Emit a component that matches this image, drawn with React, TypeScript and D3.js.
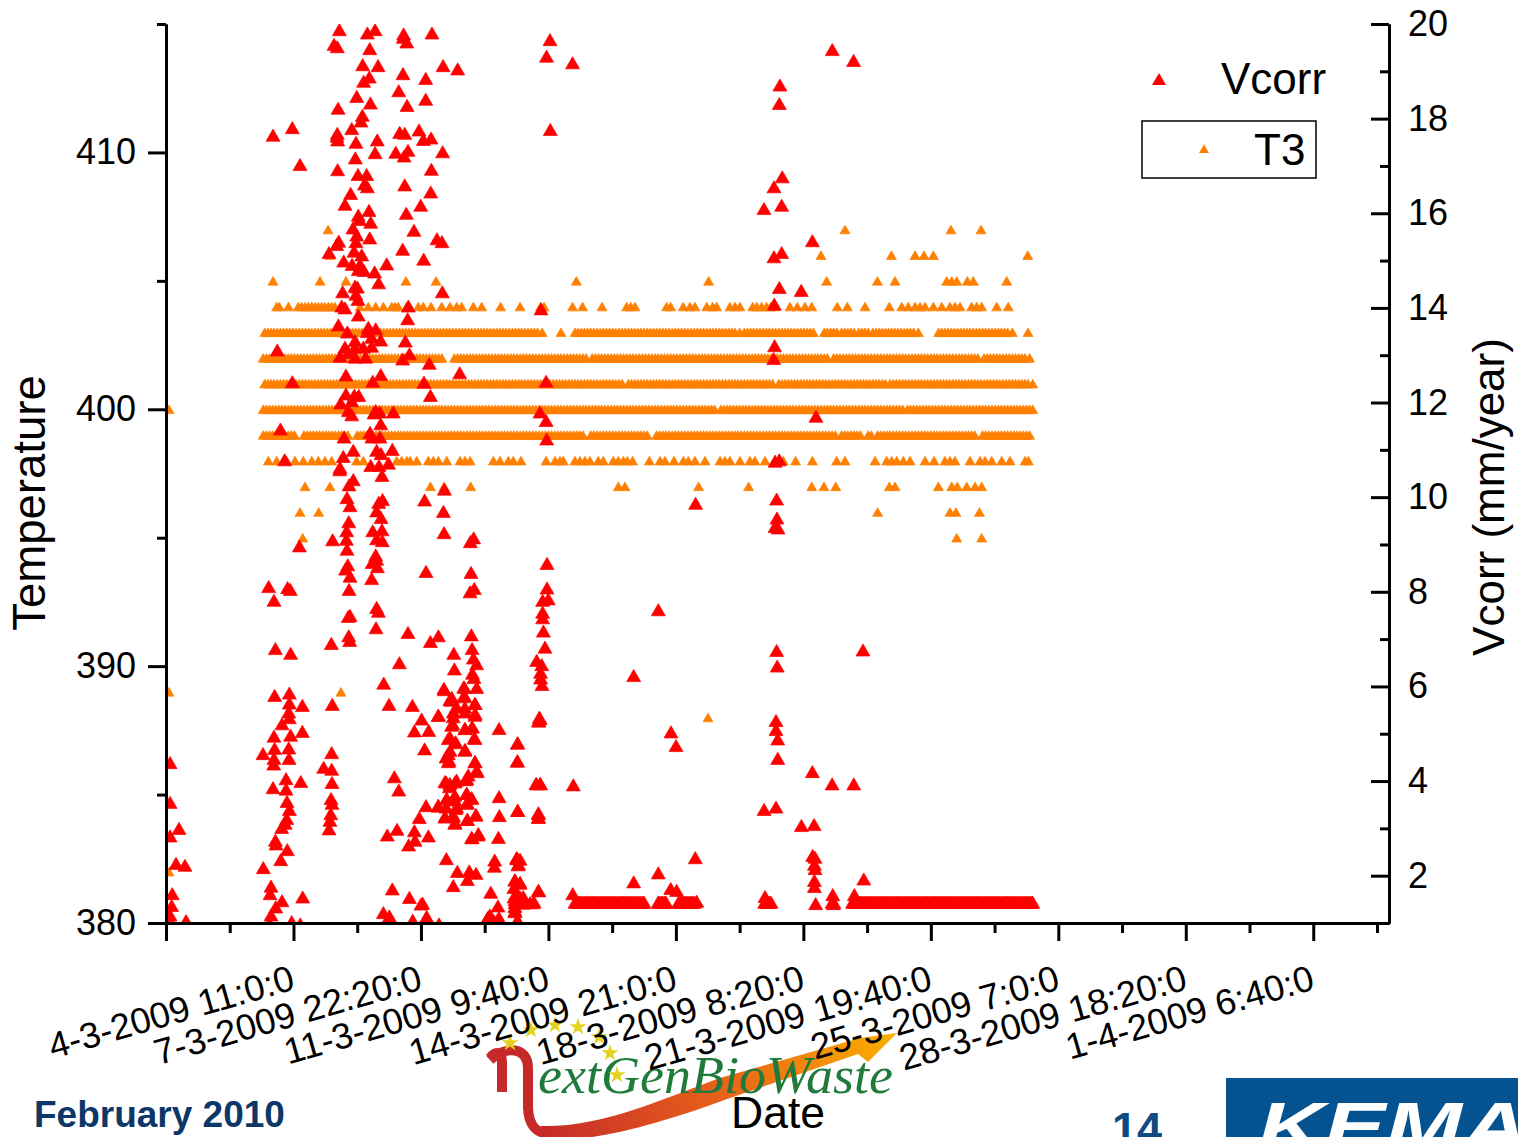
import React, { useRef, useEffect } from "react";
import * as d3 from "d3";

const tickStep = 81.33;
const xMax = 780.3;

const tickLabels = [
  "4-3-2009 11:0:0", "7-3-2009 22:20:0", "11-3-2009 9:40:0", "14-3-2009 21:0:0", "18-3-2009 8:20:0",
  "21-3-2009 19:40:0", "25-3-2009 7:0:0", "28-3-2009 18:20:0", "1-4-2009 6:40:0", "",
];

const tempMajor = [380, 390, 400, 410];
const tempMinor = [385, 395, 405, 415];
const vcorrMajor = [2, 4, 6, 8, 10, 12, 14, 16, 18, 20];
const vcorrMinor = [3, 5, 7, 9, 11, 13, 15, 17, 19];

const vcorrUpper: [number, number][] = [
  [110.6,19.88],[128.5,19.81],[133.4,19.88],[151.6,19.79],[169.7,19.81],[151.4,19.72],[153.6,19.62],[107.2,19.57],[109.3,19.52],[130,19.48],
  [125.5,19.14],[135.3,19.12],[176.8,19.12],[186.1,19.05],[151.2,18.95],[129.7,18.88],[126.1,18.79],[165.7,18.85],[148.5,18.59],[121.7,18.47],
  [165.7,18.41],[130.4,18.33],[153.8,18.28],[109.8,18.22],[125.3,18.07],[124.4,17.95],[118.5,17.79],[80.6,17.81],[68.3,17.65],[109.3,17.69],
  [109.1,17.63],[109.5,17.55],[149.1,17.71],[152.3,17.69],[161.4,17.76],[164.2,17.56],[169.1,17.59],[121.2,17.5],[134.8,17.55],[176.5,17.3],
  [133.4,17.28],[146.6,17.29],[154.4,17.33],[151.9,17.21],[120.8,17.17],[85.5,17.03],[109.5,16.92],[169.3,16.93],[122.5,16.82],[128,16.82],
  [126.6,16.62],[128.5,16.56],[152.3,16.6],[117.8,16.42],[168.9,16.45],[114.2,16.19],[162.5,16.17],[122.7,15.96],[129.5,16.06],[123.4,15.87],
  [130.6,15.81],[153.3,16],[119.3,15.69],[158.2,15.64],[121.7,15.54],[130,15.48],[110.2,15.41],[108.9,15.34],[121.2,15.4],[172.9,15.46],
  [176.1,15.4],[151,15.24],[104,15.17],[120,15.2],[124.9,15.12],[113.4,14.99],[164.4,15.03],[118.7,14.92],[123.8,14.92],[122.7,14.81],
  [126.3,14.79],[140.8,14.93],[133.1,14.76],[135.7,14.53],[120.6,14.46],[122.1,14.44],[112.7,14.34],[176.3,14.34],[121.2,14.29],[122.5,14.18],
  [112.1,14.04],[154.6,14.04],
  [239.3,13.98],[114.2,14],[154.2,13.77],[122.7,13.85],[110,13.64],[129.1,13.59],[133.8,13.56],[115.7,13.49],[128.5,13.5],[131.2,13.38],
  [120.6,13.31],[137,13.32],[152.7,13.3],[71,13.11],[114.2,13.17],[131.2,13.19],[120.6,13.17],[125.9,13.17],[155.3,13.03],[111,12.98],
  [116.3,13.06],[120.6,12.96],[127.4,12.96],[151,12.92],[168,12.83],[187.4,12.63],[114.8,12.58],[137,12.59],[131.9,12.45],[80.6,12.44],
  [164.6,12.43],[242.5,12.45],[168.7,12.15],[114.8,12.18],[120.2,12.16],[123,12.15],[118.5,12.04],[111.4,11.99],[133.8,11.83],[116.3,11.83],
  [136.5,11.8],[132.7,11.78],[145,11.8],[118.5,11.74],[238.6,11.8],[242.5,11.62],[137,11.55],[73,11.44],[130.2,11.37],[113.6,11.27],
  [131.4,11.27],[136.5,11.27],[242.9,11.23],[119.5,10.99],[134.4,10.99],[144.4,11.01],[137.2,10.92],[113.1,10.86],[75.7,10.79],[142,10.72],
  [130.6,10.67],[135.9,10.67],[111,10.63],
];

const vcorrMiddle: [number, number][] = [
  [110.8,10.58],[137.8,10.46],[119.5,10.37],[116.8,10.26],[177.6,10.17],[165,9.94],[115.5,9.99],[117.4,9.82],[138.2,9.95],[135.7,9.89],
  [134.4,9.71],[137.2,9.57],[177,9.7],[116.6,9.48],[115.3,9.29],[131.9,9.29],[137.8,9.31],[177.4,9.25],[115.1,9.11],[134.4,9.12],
  [138,9.08],[106.3,9.1],[196.3,9.14],[194.2,9.06],[85.1,8.97],[115.5,8.9],[133.8,8.78],[134.4,8.69],[131.5,8.62],[134.9,8.53],
  [116,8.57],[114.6,8.48],[117.4,8.33],[165.9,8.43],[194.6,8.41],[131.2,8.28],[65.5,8.11],[77.6,8.09],[79.3,8.05],[116.8,8.05],
  [196.7,8.07],[194,8],[68.9,7.82],[134.4,7.67],[135.5,7.59],[117.4,7.5],[116.3,7.48],[134,7.24],[154.4,7.14],[116.6,7.07],
  [117.2,6.97],[105.5,6.91],[173.8,7.07],[168.7,6.95],[194.8,7.09],[69.8,6.8],[79.5,6.7],[195.3,6.8],[183.6,6.7],[148.9,6.5],
  [196.1,6.6],[198.2,6.48],[184,6.37],[195.5,6.28],[196.5,6.19],[138.9,6.07],[198.2,5.98],[177.6,5.93],[190.4,5.98],[190.2,5.81],
  [182.3,5.77],[177.3,5.96],[190,5.99],
];

const vcorrLower: [number, number][] = [
  [69.3,5.81],[78.7,5.86],[106.1,5.62],[78.7,5.65],[87,5.6],[142.3,5.62],[157.2,5.6],[78.3,5.46],[78.7,5.34],[74,5.21],
  [163.1,5.31],[173.8,5.39],[181.9,5.71],[183.3,5.46],[197.2,5.64],[190.8,5.78],[197.2,5.43],[190.8,5.46],[183,5.21],[195.3,5.14],
  [190.8,5.11],[212.5,5.11],[238.7,5.32],[237.6,5.27],[87,5.05],[68.9,4.95],[79.5,4.97],[158.5,5.06],[167.6,5.07],[181.2,4.93],
  [196.7,4.92],[224.4,4.81],[78.3,4.7],[69.3,4.69],[61.9,4.58],[165,4.68],[184.6,4.81],[190.8,4.67],[105.7,4.6],[181.2,4.65],
  [178.7,4.51],[68.9,4.48],[78.5,4.48],[180.6,4.44],[197.2,4.41],[224.2,4.43],[2.6,4.39],[68.7,4.36],[105.7,4.25],[100.6,4.29],
  [198.2,4.23],[191.9,4.05],[76.6,4.05],[145.7,4.09],[86,3.99],[105.9,3.97],[178.7,3.98],[184.4,3.98],[180.8,3.88],[236.1,3.95],
  [238.7,3.95],[68.3,3.86],[76.6,3.83],[148.5,3.81],[191.9,3.74],[195,3.65],[179.1,3.63],[212.5,3.67],[2.6,3.55],[77.2,3.57],
  [105.3,3.63],[105.9,3.53],[184.4,3.6],[191.9,3.54],[165.9,3.48],[173.8,3.47],[178.7,3.45],[185,3.42],[78.7,3.4],[224.4,3.38],
  [105.1,3.31],[197.8,3.29],[212.7,3.27],[237.6,3.33],[237.6,3.24],[161.6,3.23],[178,3.24],[183.3,3.28],[192.3,3.19],[77,3.21],
  [104.6,3.17],[76,3.11],[184.4,3.12],[73.8,3.02],[104,2.99],[8.3,3],[147.4,2.98],[158.5,2.95],[199.3,2.89],[2.6,2.84],
  [141.2,2.86],[167.4,2.84],[195.3,2.8],[212.1,2.81],[69.8,2.75],[158.9,2.75],[70.2,2.67],[154.8,2.65],[77.4,2.55],[73.2,2.34],
  [178.9,2.36],[209.7,2.33],[223.8,2.38],[225.9,2.35],[6.4,2.26],[12.1,2.22],[209.5,2.2],[224.8,2.25],[62.1,2.17],[185.9,2.09],
  [193.5,2.1],[197.8,2.05],[192.3,1.92],[67,1.78],[183.3,1.79],[144.4,1.72],[4,1.62],[66.4,1.62],[222.7,1.91],[225.9,1.86],
  [222,1.75],[237.8,1.68],[207.2,1.65],[155.3,1.54],[87.2,1.55],[74,1.47],[3.6,1.37],[162.7,1.4],[222,1.55],[225.9,1.55],
  [222.7,1.43],[228,1.45],[234.8,1.45],[232.3,1.43],[211.8,1.36],[70,1.34],[138.7,1.22],[142.5,1.15],[2.6,1.17],[67,1.17],
  [166.3,1.13],[206.7,1.17],[222.7,1.27],[212.7,1.1],[2.6,1.06],[12.8,1.05],[80.2,1.03],[66,1],[157.4,1.06],[205,1.1],
  [224.2,1.06],[208.9,1.06],[85.7,0.98],[174.2,0.98],
  [181.1,5.72],[185.4,5.57],[197.1,5.64],[173.7,5.39],[183.3,5.36],[197.1,5.39],[190.7,5.56],[182.2,5.18],[190.7,5.11],[195.4,5.15],
  [180.1,4.9],[197.1,4.9],[184.8,4.83],[190.7,4.65],[180.1,4.58],[180.1,4.41],[197.1,4.41],[198.6,4.2],[192.8,4.13],[178,3.99],
  [185.4,4.02],[191.4,4.03],[181.1,3.95],[191.8,3.74],[195,3.63],[184.3,3.7],[179,3.63],[173.7,3.49],[185.4,3.46],[192.4,3.53],
  [178,3.25],[184.3,3.11],[183.3,3.25],[192.2,3.19],[197.7,3.28],[199.2,2.86],[195,2.81],[223.7,2.37],[224.7,2.23],[222.6,1.91],
  [225.8,1.84],[223.7,1.63],[227.9,1.56],[222.6,1.49],[234.3,1.43],[222.6,1.35],[227.9,1.42],[222.6,1.24],[205.6,1.13],[212,1.1],
  [224.3,1.06],[166.3,1.13],[163.7,1.42],
];

const vcorrRight: [number, number][] = [
  [243.1,8.6],[243.1,8.08],[243.9,7.85],[240.3,7.82],[240.3,7.57],[240.3,7.45],[240.8,7.17],[241.8,6.83],[236.5,6.55],[239.7,6.46],
  [239,6.3],[239,6.18],[239.9,6.04],[238.2,5.35],[238,5.27],[314.1,7.62],[298.4,6.23],[389.6,6.76],[390,6.43],[444.7,6.77],
  [322.2,5.04],[325.4,4.75],[389.2,5.28],[389.2,5.09],[390.3,4.89],[390.3,4.48],[412.4,4.2],[425,3.94],[438.8,3.94],[236.5,3.94],
  [239,3.94],[259.9,3.92],[224.2,4.8],[224.2,4.42],[224.4,3.38],[237.6,3.31],[237.6,3.23],[381.6,3.4],[389.2,3.45],[405.4,3.06],
  [413.5,3.08],[337.7,2.38],[412.6,2.43],[414.1,2.39],[413.7,2.24],[414.1,2.15],[224.2,2.36],[314.1,2.06],[298.4,1.87],[413.7,1.9],
  [413.7,1.77],[445.2,1.93],[237.6,1.69],[322,1.73],[325.8,1.69],[259.5,1.62],[338.6,1.46],[425.4,1.6],[382.2,1.56],[439.2,1.6],
  [414.5,1.41],[425.8,1.41],[383.3,1.44],
  [245,19.67],[242.8,19.32],[259.4,19.18],[245.2,17.77],[425.1,19.46],[438.7,19.23],[391.7,18.71],[391.3,18.32],[393.2,16.77],[387.9,16.56],
  [381.5,16.1],[392.8,16.17],[412.4,15.42],[392.8,15.17],[387.9,15.08],[391.3,14.43],[405.3,14.37],[388.1,14.08],
  [388.3,13.2],[387.7,12.93],[414.7,11.71],[388.6,10.76],[391.3,10.79],[389.6,9.96],[389.8,9.56],[388.6,9.38],[390.5,9.35],[337.9,9.87],
];

// Vcorr readings that sit on the flat run near 1.44 mm/year
const vcorrFloorValue = 1.44;
const vcorrFloor = [
  261,262,263,264,265,266,267,268,269,270,271,272,273,274,275,276,277,278,279,280,281,282,283,284,285,286,287,288,289,290,
  291,292,293,294,295,296,297,298,299,300,301,302,303,304,305,314,315,316,317,318,319,327,328,329,330,331,332,333,334,335,336,337,
  382,383,384,385,386,425,426,
  438,439,440,441,442,443,444,445,446,447,448,449,450,451,452,453,454,455,456,457,458,459,460,461,462,463,464,465,466,467,468,469,470,
  471,472,473,474,475,476,477,478,479,480,481,482,483,484,485,486,487,488,489,490,491,492,493,494,495,496,497,498,499,500,501,502,503,
  504,505,506,507,508,509,510,511,512,513,514,515,516,517,518,519,520,521,522,523,524,525,526,527,528,529,530,531,532,533,534,535,536,
  537,538,539,540,541,542,543,544,545,546,547,548,549,550,551,552,553,
];

const t3Row407 = [103.4,433.2,500.8,520];
const t3Row406 = [104.6,417.9,462.8,477.9,483.6,489.6,549.8];
const t3Row405 = [68.3,98.3,114.8,153.1,172.3,261.8,346.2,421.5,453.9,465.1,498.1,501.3,504.5,511.3,515.1,536.4];
const t3Row404 = [
  70.6,72.3,78.1,84.4,86.6,88.7,90.8,93,95.1,97.2,99.3,101.4,103.6,105.7,107.8,123.8,129.1,133.8,138.7,144,146.1,148.2,153.6,161,164.2,
  169.1,175.9,181.2,185.5,188.6,196.1,201.4,213.5,225.9,239,241.2,259.4,265.8,278.2,293.9,296.5,299.2,319.4,322,330,334.3,337.5,345,348.8,351.3,
  359.8,363,366.2,374.3,376.9,380,383.2,385.8,388.6,398.1,402.8,407.7,412,428.3,434.7,446,461.5,469.4,473.6,477.9,481.1,484.3,489.6,494.9,500.2,
  503.4,506.6,514,517.2,520.4,530,537.4,
];
const t3Row403 = [
  63,65,67,69,71,73,75,77,79,81,83,85,87,89,91,93,95,97,99,101,103,105,107,109,111,113,115,117,119,121,123,125,127,129,131,133,135,137,139,141,
  143,145,147,149,151,153,155,157,159,161,163,165,167,169,171,173,175,177,179,181,183,185,187,189,191,193,195,197,199,201,203,205,207,209,211,
  213,215,217,219,221,223,225,227,229,231,233,235,237,240,252,261,263,265,267,269,271,273,275,277,279,281,283,285,287,289,291,293,295,297,299,
  301,303,305,307,309,311,313,315,317,319,321,323,325,327,329,331,333,335,337,339,341,343,345,347,349,351,353,355,357,359,361,363,366,369,371,
  373,375,377,379,381,383,385,387,389,391,393,395,397,399,401,403,405,407,409,411,413,420,422,424,426,428,431,433,435,437,439,442,444,446,448,
  451,453,455,457,459,461,463,465,467,469,471,473,475,477,480,493,495,497,499,501,503,505,507,509,511,513,515,517,519,521,523,525,527,529,531,
  533,535,537,540,550,
];
const t3Row402 = [
  62,64,66,68,70,72,74,76,78,80,82,84,86,88,90,92,94,96,98,100,102,104,106,108,110,112,114,116,118,120,122,124,126,128,130,132,134,136,138,140,
  142,144,146,148,150,152,154,156,158,160,162,164,166,168,170,172,174,176,184,186,188,190,192,194,196,198,200,202,204,206,208,210,212,214,216,
  218,220,222,224,226,228,230,232,234,236,238,240,242,244,246,248,250,252,254,256,258,260,262,264,266,268,272,274,276,278,280,282,284,286,288,
  290,292,294,296,298,300,302,304,306,308,310,312,314,316,318,320,322,324,326,328,330,332,334,336,338,340,342,344,346,348,350,352,354,356,358,
  360,362,364,366,368,370,372,374,376,378,380,382,384,386,388,390,392,394,396,398,400,402,404,406,408,410,412,414,416,418,420,422,426,428,430,
  432,434,436,438,440,442,444,446,448,450,452,454,456,458,460,462,464,466,468,470,472,474,476,478,480,482,484,486,488,490,492,494,496,498,500,
  502,504,506,508,510,512,514,516,518,522,524,526,528,530,532,534,536,538,540,542,544,546,548,551,
];
const t3Row401 = [
  63,65,67,69,71,73,75,77,79,81,83,85,87,89,91,93,95,97,99,101,103,105,107,109,111,113,115,117,119,121,123,125,127,129,131,133,135,137,139,141,
  143,145,147,149,151,153,155,157,159,161,163,165,167,169,171,173,175,177,179,181,183,185,187,189,191,193,195,197,199,201,203,205,207,209,211,
  213,215,217,219,221,223,225,227,229,231,233,235,237,239,241,243,245,247,249,251,253,255,257,259,261,263,265,267,269,271,273,275,277,279,281,
  283,285,287,289,291,295,297,299,301,303,305,307,309,311,313,315,317,319,321,323,325,327,329,331,333,335,337,339,341,343,345,347,349,351,353,
  355,357,359,361,363,365,367,369,371,373,375,377,379,381,383,385,387,391,393,395,397,399,401,403,405,407,409,411,413,415,417,419,421,423,425,
  427,429,431,433,435,437,439,441,443,445,447,449,451,453,455,457,459,462,464,466,468,470,472,474,476,478,480,482,484,486,488,490,492,494,496,
  498,500,502,504,506,508,510,512,514,516,518,520,522,524,526,528,530,532,534,536,538,540,542,544,546,548,550,553,
];
const t3Row400 = [
  62,64,66,68,70,72,74,76,78,80,82,84,86,88,90,92,94,96,98,100,102,104,106,108,110,112,114,116,118,120,122,124,126,128,130,132,134,136,138,140,
  142,144,146,148,150,152,154,156,158,160,162,164,166,168,170,172,174,176,178,180,182,184,186,188,190,192,194,196,198,200,202,204,206,208,210,
  212,214,216,218,220,222,224,226,228,230,232,234,236,238,240,242,244,246,248,250,252,254,256,258,260,262,264,266,268,270,272,274,276,278,280,
  282,284,286,288,290,292,294,296,298,300,302,304,306,308,310,312,314,316,318,320,322,324,326,328,330,332,334,336,338,340,342,344,346,348,350,
  354,356,358,360,362,364,366,368,370,372,374,376,378,380,382,384,386,388,390,392,394,396,398,400,402,404,406,408,410,412,414,416,418,420,422,
  424,426,428,430,432,434,436,438,440,442,444,446,448,450,452,454,456,458,460,462,464,466,468,470,473,475,477,479,481,483,485,487,489,491,493,
  495,497,499,501,503,505,507,509,511,513,515,517,519,521,523,525,527,529,531,533,535,537,539,541,543,545,547,549,551,553,
];
const t3Row399 = [
  62,64,66,68,70,72,74,76,78,80,82,88,90,92,94,96,98,100,102,104,106,108,110,112,114,116,122,124,126,128,130,132,134,136,138,140,
  142,144,146,148,150,152,154,156,158,160,162,164,166,168,170,172,174,176,178,180,182,184,186,188,190,192,194,196,198,200,202,204,206,208,210,
  212,214,216,218,220,222,224,226,228,230,232,234,236,238,240,242,244,246,248,250,252,254,256,258,260,262,264,266,271,273,275,277,279,281,283,
  285,287,289,291,293,295,297,299,301,303,305,307,313,315,317,319,321,323,325,327,329,331,333,335,337,339,341,343,345,347,349,351,353,355,357,
  359,361,363,365,367,369,371,373,375,377,379,381,383,385,387,389,391,393,395,397,399,401,403,405,407,409,411,413,415,417,419,421,423,425,427,
  431,433,435,437,439,441,443,448,450,454,456,458,460,462,464,466,468,470,472,474,476,478,480,482,484,486,488,490,492,494,496,498,500,502,504,
  506,508,510,512,514,516,521,523,525,527,529,531,533,535,537,539,541,543,545,547,549,551,
];
const t3Row398 = [
  65.3,70.6,77,82.3,87.6,93,97.2,101.4,105.7,121.6,125.9,147.2,150.4,153.6,155.7,160,167.4,170.6,173.8,179.1,187.6,190.8,194,208.9,213.1,218.4,
  221.6,226.5,242.5,248.2,251.4,253.5,260.9,264.1,267.3,270.5,275.8,279,285.4,288.6,291.8,294.3,297.7,308.4,315.2,318.4,324.1,330.1,333.2,337.5,
  343.9,353.5,356.6,359.8,366.2,372.6,375.8,382.2,393.9,401.7,412.4,427.9,433.2,452.4,459.8,463,466.2,470.4,474.7,484.3,490,497,500.2,503.4,513,
  519.4,522.6,526.8,533.2,538.5,548.1,550.2,
];
const t3Row397 = [88.7,104.6,168.7,177.4,194.4,288.6,292.8,339.8,371.7,412,419.8,427.3,461.5,465.1,492.8,501.3,504.9,510.9,516.2,520.4];
const t3Row396 = [85.5,97.4,454,500.2,504,519];
const t3Row395 = [87.2,504.5,520.4];
const t3Strays: [number, number][] = [[1.9,400],[1.9,389],[1.9,382],[111.6,389],[345.8,388]];

const t3Rows: [number, number[]][] = [
  [407, t3Row407], [406, t3Row406], [405, t3Row405], [404, t3Row404], [403, t3Row403], [402, t3Row402],
  [401, t3Row401], [400, t3Row400], [399, t3Row399], [398, t3Row398], [397, t3Row397], [396, t3Row396], [395, t3Row395],
];

const starSpots = [[510,1043],[531,1030],[555,1025],[578,1027],[599,1037],[610,1053],[617,1075]];

const App = () => {
  const plot = useRef<SVGSVGElement>(null);

  const left = 166, right = 1389, top = 24, bottom = 923;
  const fontFamily = "'Liberation Sans', Arial, sans-serif";

  useEffect(() => {
    const svg = d3.select(plot.current);
    svg.selectAll("*").remove();

    const xScale = d3.scaleLinear().domain([0, xMax]).range([left, right]);
    const tempScale = d3.scaleLinear().domain([380, 415]).range([bottom, top]);
    const vcorrScale = d3.scaleLinear().domain([1, 20]).range([bottom, top]);

    // logo behind everything
    const defs = svg.append("defs");
    const grad = defs.append("linearGradient").attr("id", "swoosh").attr("gradientUnits", "userSpaceOnUse")
      .attr("x1", 540).attr("x2", 897).attr("y1", 1130).attr("y2", 1035);
    grad.append("stop").attr("offset", "0").attr("stop-color", "#c62a28");
    grad.append("stop").attr("offset", "0.5").attr("stop-color", "#e8621a");
    grad.append("stop").attr("offset", "1").attr("stop-color", "#fbb000");
    defs.append("clipPath").attr("id", "plotClip").append("rect")
      .attr("x", left).attr("y", top).attr("width", right - left).attr("height", bottom - top);

    const logo = svg.append("g");
    logo.append("path").attr("fill", "url(#swoosh)")
      .attr("d", "M540 1126 C600 1128 660 1100 720 1078 L860 1038 L897 1033 L868 1062 L858 1054 L730 1098 C660 1124 600 1140 555 1140 Z");
    logo.append("path").attr("fill", "none").attr("stroke", "#c62a28").attr("stroke-width", 10)
      .attr("d", "M490 1058 C496 1050 502 1052 502 1062 L502 1092 M490 1060 C505 1046 528 1046 528 1068 L528 1108 C529 1126 536 1134 552 1134");
    logo.append("text").attr("x", 538).attr("y", 1093).attr("font-family", "'Liberation Serif', serif")
      .attr("font-style", "italic").attr("font-size", 52).attr("fill", "#1f7a3c")
      .attr("textLength", 355).attr("lengthAdjust", "spacingAndGlyphs").text("extGenBioWaste");
    logo.selectAll("path.star").data(starSpots).join("path").attr("class", "star")
      .attr("d", d3.symbol().type(d3.symbolStar).size(90))
      .attr("transform", d => `translate(${d[0]},${d[1]})`)
      .attr("fill", "#e6d21e");

    // series, T3 first so Vcorr lies on top
    const t3Size = 43.3, vcorrSize = 84.8;
    const marks = svg.append("g").attr("clip-path", "url(#plotClip)");
    const t3Points = t3Rows.flatMap(([temp, xs]) => xs.map(x => [x, temp]));
    const t3Symbol = d3.symbol().type(d3.symbolTriangle).size(t3Size);
    marks.append("g").selectAll("path").data([...t3Points, ...t3Strays]).join("path")
      .attr("d", t3Symbol)
      .attr("fill", "#ff8000")
      .attr("stroke", "#ff8000").attr("stroke-width", 0.7)
      .attr("transform", d => `translate(${xScale(d[0])},${tempScale(d[1]) + 1.44})`);

    const vcorrPoints = [...vcorrUpper, ...vcorrMiddle, ...vcorrLower, ...vcorrRight, ...vcorrFloor.map(x => [x, vcorrFloorValue])];
    const vcorrSymbol = d3.symbol().type(d3.symbolTriangle).size(vcorrSize);
    marks.append("g").selectAll("path").data(vcorrPoints).join("path")
      .attr("d", vcorrSymbol)
      .attr("fill", "#ff0000")
      .attr("stroke", "#ff0000").attr("stroke-width", 0.7)
      .attr("transform", d => `translate(${xScale(d[0])},${vcorrScale(d[1]) + 2})`);

    // axes
    const styleAxis = (g: any) => {
      g.selectAll("path,line").attr("stroke", "#000").attr("stroke-width", 3);
      g.selectAll("text").attr("fill", "#000").attr("font-family", fontFamily).attr("font-size", 36);
    };

    svg.append("g").attr("transform", `translate(${left},0)`)
      .call(d3.axisLeft(tempScale).tickValues(tempMajor).tickSize(18).tickPadding(12).tickSizeOuter(0))
      .call(styleAxis);
    svg.append("g").attr("transform", `translate(${left},0)`)
      .call(d3.axisLeft(tempScale).tickValues(tempMinor).tickSize(9).tickFormat(() => "").tickSizeOuter(0))
      .call(styleAxis);

    svg.append("g").attr("transform", `translate(${right},0)`)
      .call(d3.axisRight(vcorrScale).tickValues(vcorrMajor).tickSizeInner(-18).tickSizeOuter(0).tickPadding(19))
      .call(styleAxis);
    svg.append("g").attr("transform", `translate(${right},0)`)
      .call(d3.axisRight(vcorrScale).tickValues(vcorrMinor).tickSizeInner(-9).tickSizeOuter(0).tickFormat(() => ""))
      .call(styleAxis);

    const xMajor = tickLabels.map((_, i) => i * tickStep);
    const xMinor = tickLabels.map((_, i) => (i + 0.5) * tickStep);
    svg.append("g").attr("transform", `translate(0,${bottom})`)
      .call(d3.axisBottom(xScale).tickValues(xMinor).tickSize(10).tickFormat(() => "").tickSizeOuter(0))
      .call(styleAxis);
    // each label ends under the next tick, so anchor the rotated text at its right end
    svg.append("g").attr("transform", `translate(0,${bottom})`)
      .call(d3.axisBottom(xScale).tickValues(xMajor).tickSize(18).tickFormat((d, i) => tickLabels[i]).tickSizeOuter(0))
      .call(styleAxis)
      .call(g => g.selectAll("text")
        .attr("font-size", 36.3)
        .attr("text-anchor", "end")
        .attr("y", 0).attr("dy", 0)
        .attr("transform", "translate(130,66) rotate(-16)"));

    // titles
    const title = (txt: string, x: number, y: number, rot: number, size: number) =>
      svg.append("text").attr("transform", `translate(${x},${y}) rotate(${rot})`)
        .attr("text-anchor", "middle").attr("font-family", fontFamily).attr("font-size", size).attr("fill", "#000").text(txt);
    title("Temperature", 45, 503, -90, 45.5);
    title("Vcorr (mm/year)", 1504, 497, -90, 44);
    title("Date", 778, 1128, 0, 44.5);

    // legend
    const legend = svg.append("g").attr("font-family", fontFamily).attr("font-size", 44).attr("fill", "#000");
    legend.append("rect").attr("x", 1142).attr("y", 121).attr("width", 174).attr("height", 57)
      .attr("fill", "none").attr("stroke", "#000").attr("stroke-width", 1.5);
    legend.append("path").attr("d", vcorrSymbol as any).attr("fill", "#ff0000").attr("transform", "translate(1159,81)");
    legend.append("text").attr("x", 1221).attr("y", 94).text("Vcorr");
    legend.append("path").attr("d", t3Symbol as any).attr("fill", "#ff8000").attr("transform", "translate(1204,150)");
    legend.append("text").attr("x", 1254).attr("y", 165).text("T3");

    // slide footer
    const footer = svg.append("g").attr("font-family", fontFamily).attr("font-weight", "bold");
    footer.append("text").attr("x", 34).attr("y", 1127).attr("font-size", 37).attr("fill", "#0c3768").text("February 2010");
    footer.append("text").attr("x", 1112).attr("y", 1144).attr("font-size", 45).attr("fill", "#0f4a80").text("14");
    footer.append("rect").attr("x", 1226).attr("y", 1078).attr("width", 292).attr("height", 59).attr("fill", "#04528f");
    footer.append("text").attr("x", 1258).attr("y", 1150).attr("font-size", 68).attr("font-style", "italic").attr("fill", "#fff")
      .attr("textLength", 270).attr("lengthAdjust", "spacingAndGlyphs").text("KEMA");
  }, []);

  return (
    <svg ref={plot} width={1518} height={1137} style={{ position: "absolute", left: 0, top: 0, display: "block", background: "#fff" }} />
  );
};

export default App;
